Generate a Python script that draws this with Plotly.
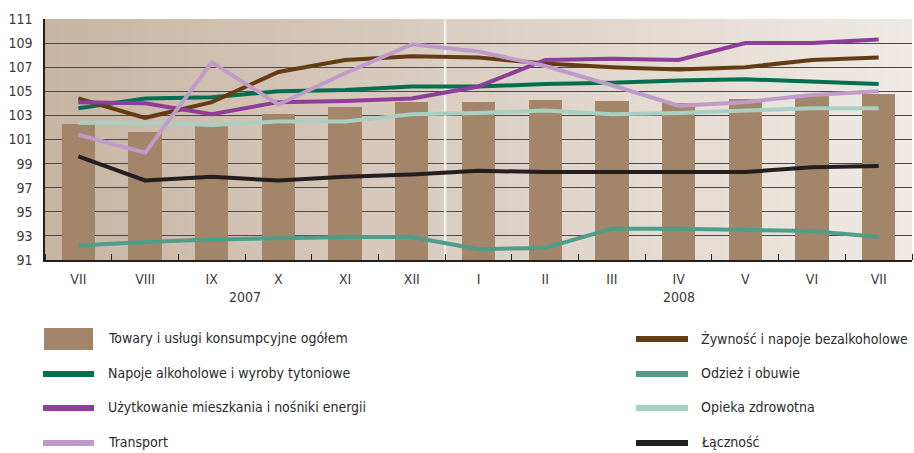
import plotly.graph_objects as go

months = ["VII", "VIII", "IX", "X", "XI", "XII", "I", "II", "III", "IV", "V", "VI", "VII"]
years = ["2007", "2008"]
year_centers = [2.5, 9.0]
year_split = 5.5

total = [102.3, 101.6, 102.1, 103.1, 103.7, 104.1, 104.1, 104.3, 104.2, 104.0, 104.4, 104.6, 104.8]
food = [104.4, 102.8, 104.1, 106.6, 107.6, 107.9, 107.8, 107.3, 107.0, 106.8, 107.0, 107.6, 107.8]
alcohol = [103.6, 104.4, 104.5, 105.0, 105.1, 105.4, 105.4, 105.6, 105.7, 105.9, 106.0, 105.8, 105.6]
clothing = [92.2, 92.5, 92.7, 92.8, 92.9, 92.9, 91.9, 92.0, 93.6, 93.6, 93.5, 93.4, 92.9]
housing = [104.1, 104.0, 103.1, 104.1, 104.2, 104.4, 105.4, 107.6, 107.7, 107.6, 109.0, 109.0, 109.3]
health = [102.4, 102.4, 102.2, 102.5, 102.5, 103.1, 103.2, 103.4, 103.1, 103.2, 103.4, 103.6, 103.6]
transport = [101.4, 99.9, 107.4, 103.9, 106.5, 108.9, 108.3, 107.1, 105.5, 103.8, 104.1, 104.7, 105.0]
comm = [99.6, 97.6, 97.9, 97.6, 97.9, 98.1, 98.4, 98.3, 98.3, 98.3, 98.3, 98.7, 98.8]

names = {
    "total": "Towary i usługi konsumpcyjne ogółem",
    "food": "Żywność i napoje bezalkoholowe",
    "alcohol": "Napoje alkoholowe i wyroby tytoniowe",
    "clothing": "Odzież i obuwie",
    "housing": "Użytkowanie mieszkania i nośniki energii",
    "health": "Opieka zdrowotna",
    "transport": "Transport",
    "comm": "Łączność",
}
colors = {
    "total": "#a3856a",
    "food": "#643c14",
    "alcohol": "#00704f",
    "clothing": "#4e9e89",
    "housing": "#8e3d98",
    "health": "#a9cfc3",
    "transport": "#c09bc9",
    "comm": "#231f20",
}
series = {"food": food, "alcohol": alcohol, "clothing": clothing, "housing": housing,
          "health": health, "transport": transport, "comm": comm}
draw_order = ["clothing", "health", "comm", "alcohol", "food", "housing", "transport"]

FONT = "DejaVu Sans Condensed, Roboto, sans-serif"
FS = 14
W, H = 914, 453
L, R, T, B = 45, 2, 19, 193
x_idx = list(range(len(months)))

fig = go.Figure()
fig.add_trace(go.Bar(x=x_idx, y=total, width=0.5, marker=dict(color=colors["total"], line=dict(width=0)),
                     name=names["total"], showlegend=False))
for k in draw_order:
    fig.add_trace(go.Scatter(x=x_idx, y=series[k], mode="lines", name=names[k],
                             line=dict(color=colors[k], width=4), showlegend=False))

# background gradient
def lerp(c1, c2, t):
    a = [int(c1[i:i + 2], 16) for i in (1, 3, 5)]
    b = [int(c2[i:i + 2], 16) for i in (1, 3, 5)]
    return "#%02x%02x%02x" % tuple(round(a[j] + (b[j] - a[j]) * t) for j in range(3))

shapes = []
n = 60
x0, x1 = -0.5, 12.5
for i in range(n):
    t = i / (n - 1)
    xa = x0 + (x1 - x0) * i / n
    xb = x0 + (x1 - x0) * (i + 1) / n
    shapes.append(dict(type="rect", xref="x", yref="y", x0=xa, x1=xb + 0.01, y0=91, y1=111,
                       fillcolor=lerp("#c8b5a3", "#efeae5", t), line=dict(width=0), layer="below"))
shapes.append(dict(type="line", xref="x", yref="y", x0=year_split, x1=year_split, y0=91, y1=111,
                   line=dict(color="#f4f0ec", width=2.5), layer="between"))

# manual legend
def px_x(p):
    return (p - L) / (W - L - R)

def px_y(p):
    return (H - B - p) / (H - T - B)

annotations = []
for yr, xc in zip(years, year_centers):
    annotations.append(dict(x=xc, y=px_y(297), xref="x", yref="paper", text=yr, showarrow=False,
                            font=dict(family=FONT, size=FS, color="#3a3a3a"), yanchor="middle"))

left_items = ["total", "alcohol", "housing", "transport"]
right_items = ["food", "clothing", "health", "comm"]
rows = [339, 374, 408, 443]
for col, items, sx0, sx1, tx in [(0, left_items, 43, 94, 106), (1, right_items, 636, 688, 699)]:
    for k, ry in zip(items, rows):
        if k == "total":
            shapes.append(dict(type="rect", xref="paper", yref="paper", x0=px_x(44), x1=px_x(93),
                               y0=px_y(328), y1=px_y(350), fillcolor=colors[k], line=dict(width=0)))
        else:
            shapes.append(dict(type="line", xref="paper", yref="paper", x0=px_x(sx0), x1=px_x(sx1),
                               y0=px_y(ry), y1=px_y(ry), line=dict(color=colors[k], width=6)))
        annotations.append(dict(x=px_x(tx), y=px_y(ry - 1), xref="paper", yref="paper", text=names[k],
                                showarrow=False, xanchor="left", yanchor="middle",
                                font=dict(family=FONT, size=FS, color="#2a2a2a")))

fig.update_layout(
    width=W, height=H,
    margin=dict(l=L, r=R, t=T, b=B),
    paper_bgcolor="white", plot_bgcolor="#dccfc4",
    font=dict(family=FONT, size=FS, color="#3a3a3a"),
    shapes=shapes, annotations=annotations,
    bargap=0, showlegend=False,
)
fig.update_xaxes(
    range=[-0.5, 12.5], tickvals=x_idx, ticktext=months, ticks="", showgrid=False,
    showline=True, linecolor="#231f20", linewidth=1.5, zeroline=False,
    ticklabelstandoff=5,
    tickfont=dict(family=FONT, size=FS, color="#3a3a3a"),
    minor=dict(tickvals=[i - 0.5 for i in range(len(months) + 1)], ticks="inside", ticklen=6,
               tickcolor="#231f20", tickwidth=1.2, showgrid=False),
)
fig.update_yaxes(
    range=[91, 111], tickvals=list(range(91, 112, 2)), showgrid=True, gridcolor="#4a4a4a",
    gridwidth=1, showline=True, linecolor="#231f20", linewidth=1.5, zeroline=False, ticks="",
    ticklabelstandoff=8,
    tickfont=dict(family=FONT, size=FS, color="#3a3a3a"),
)
fig.write_html("out.html", config={"displayModeBar": False},
               post_script="document.body.style.margin='0';document.body.style.padding='0';")
